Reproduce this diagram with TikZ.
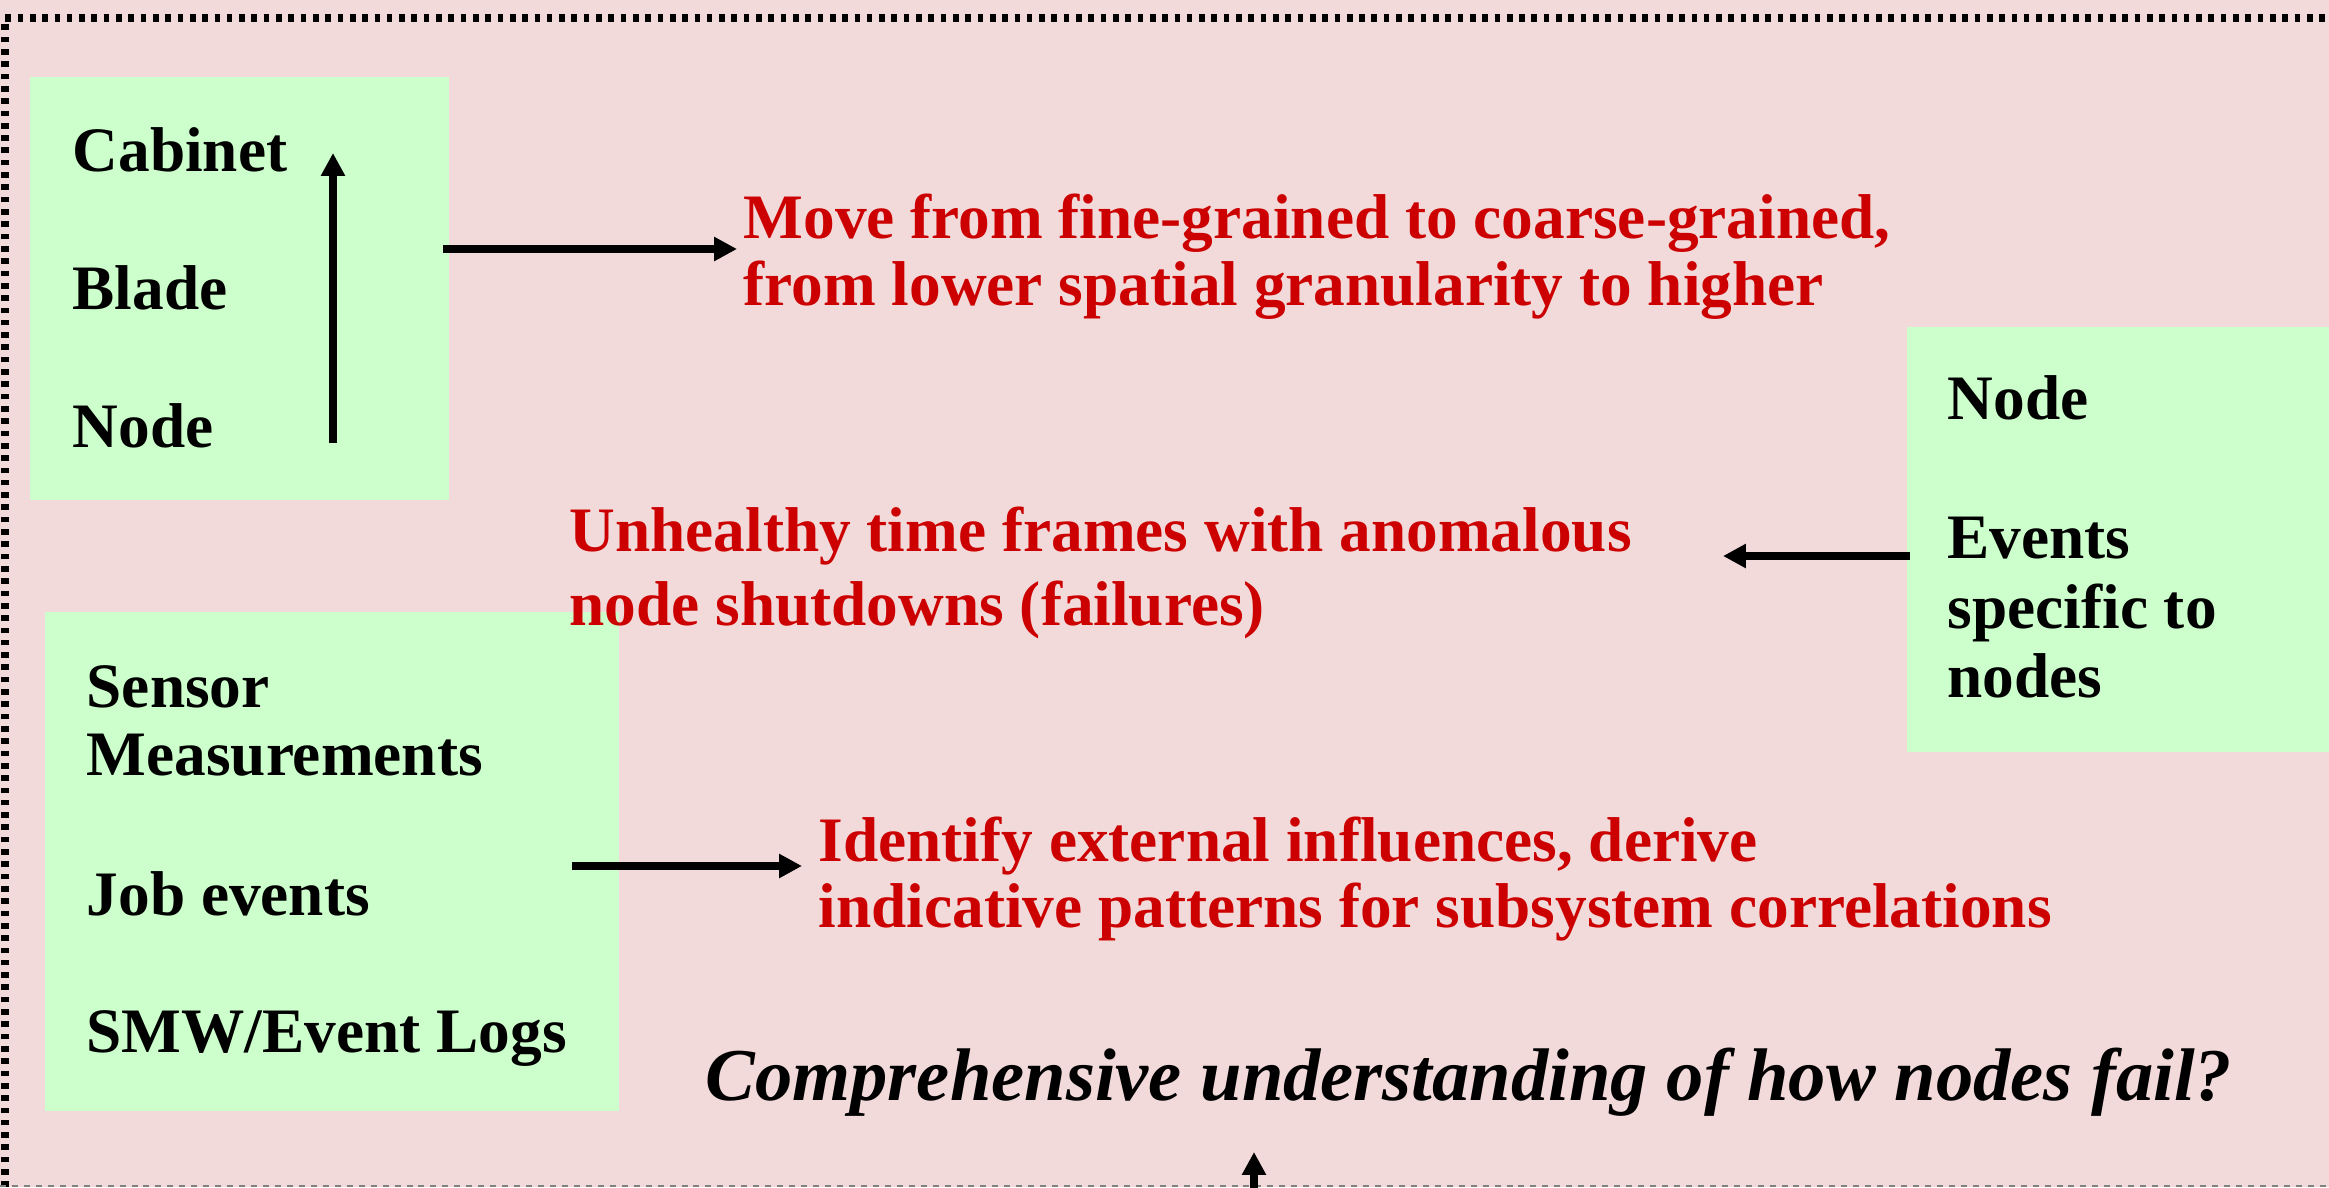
\documentclass[tikz,border=0pt]{standalone}
\usepackage{fontspec}
\setmainfont{Liberation Serif}
\usetikzlibrary{arrows.meta}
\definecolor{bgpink}{RGB}{242,218,218}
\definecolor{boxgreen}{RGB}{204,255,204}
\definecolor{txtred}{RGB}{204,0,0}
\begin{document}
\begin{tikzpicture}[x=0.01cm,y=-0.01cm,
  greenbox/.style={fill=boxgreen,draw=none,inner sep=0pt,outer sep=0pt},
  blk/.style={anchor=base west,inner sep=0pt,font=\fontsize{18}{20}\selectfont\bfseries,text=black},
  redtxt/.style={anchor=base west,inner sep=0pt,font=\fontsize{18}{20}\selectfont\bfseries,text=txtred},
  conn/.style={line width=2pt,-{Triangle[length=6.5pt,width=6.5pt]}}]
\useasboundingbox (0,0) rectangle (2329,1187);
\fill[bgpink] (0,0) rectangle (2329,1187);
% border
\draw[line width=2pt,dash pattern=on 1.6pt off 1.9pt] (5,1187) -- (5,18) -- (2340,18);
\draw[gray,line width=0.7pt,dash pattern=on 1.7pt off 1.7pt] (0,1186) -- (2329,1186);
% green boxes
\fill[boxgreen] (30,77) rectangle (449,500);
\fill[boxgreen] (1907,327) rectangle (2340,752);
\fill[boxgreen] (45,612) rectangle (619,1111);
% box 1 texts
\node[blk] (cab) at (72,171) {Cabinet};
\node[blk] (bla) at (72,309) {Blade};
\node[blk] (nod) at (72,447) {Node};
\coordinate (ua) at (333,443);
\coordinate (ub) at (333,153);
\draw[conn] (ua) -- (ub);
\coordinate (a1s) at (443,249);
\coordinate (a1e) at (737,249);
\draw[conn] (a1s) -- (a1e);
\node[redtxt] (mv1) at (743,238) {Move from fine-grained to coarse-grained,};
\node[redtxt] (mv2) at (743,305) {from lower spatial granularity to higher};
% box 2 texts
\node[blk] (n2) at (1947,419) {Node};
\node[blk] (ev1) at (1947,558) {Events};
\node[blk] (ev2) at (1947,628) {specific to};
\node[blk] (ev3) at (1947,697) {nodes};
\coordinate (a2s) at (1910,556);
\coordinate (a2e) at (1723,556);
\draw[conn] (a2s) -- (a2e);
\node[redtxt] (uh1) at (569,551) {Unhealthy time frames with anomalous};
\node[redtxt] (uh2) at (569,625) {node shutdowns (failures)};
% box 3 texts
\node[blk] (s1) at (86,707) {Sensor};
\node[blk] (s2) at (86,775) {Measurements};
\node[blk] (s3) at (86,915) {Job events};
\node[blk] (s4) at (86,1052) {SMW/Event Logs};
\coordinate (a3s) at (572,866);
\coordinate (a3e) at (802,866);
\draw[conn] (a3s) -- (a3e);
\node[redtxt] (id1) at (818,861) {Identify external influences, derive};
\node[redtxt] (id2) at (818,927) {indicative patterns for subsystem correlations};
% bottom
\node[anchor=base west,inner sep=0pt,font=\fontsize{21.2}{23}\selectfont\bfseries\itshape] (cq) at (705,1100) {Comprehensive understanding of how nodes fail?};
\coordinate (bs) at (1254,1200);
\coordinate (be) at (1254,1152);
\draw[conn] (bs) -- (be);
\end{tikzpicture}
\end{document}
